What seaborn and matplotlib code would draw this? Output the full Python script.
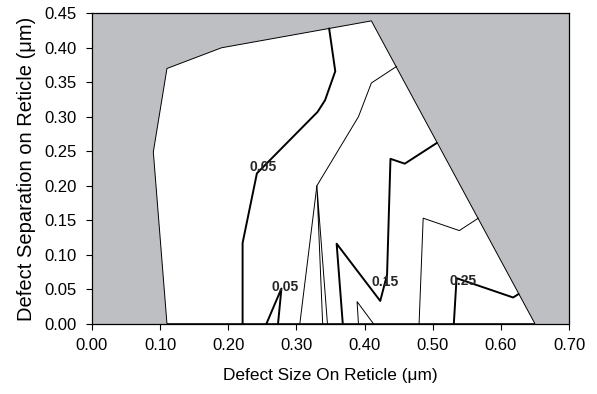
import matplotlib
matplotlib.use("Agg")
import matplotlib.pyplot as plt
import seaborn as sns
import pandas as pd

sns.set_theme(style="white")
plt.rcParams['font.family'] = ['Liberation Sans', 'DejaVu Sans']

# Feasible (white) region boundary
region_x = [0.110, 0.090, 0.110, 0.190, 0.348, 0.410, 0.650]
region_y = [0.000, 0.249, 0.370, 0.400, 0.428, 0.439, 0.000]

# Contours (thick = labelled levels)
c005a_x = [0.348, 0.357, 0.342, 0.331, 0.276, 0.242, 0.221, 0.221]
c005a_y = [0.428, 0.366, 0.324, 0.307, 0.252, 0.218, 0.117, 0.000]
c005b_x = [0.256, 0.278, 0.273]
c005b_y = [0.000, 0.051, 0.000]
c015_x = [0.506, 0.459, 0.438, 0.433, 0.423, 0.359, 0.368]
c015_y = [0.262, 0.232, 0.239, 0.071, 0.033, 0.116, 0.000]
c025_x = [0.626, 0.618, 0.535, 0.531]
c025_y = [0.043, 0.038, 0.066, 0.000]

# Thin contours
t1_x = [0.447, 0.410, 0.391, 0.330, 0.305]
t1_y = [0.373, 0.349, 0.300, 0.200, 0.000]
t2_x = [0.3385, 0.330, 0.3455]
t2_y = [0.000, 0.200, 0.000]
t3_x = [0.391, 0.389, 0.413]
t3_y = [0.000, 0.032, 0.000]
t4_x = [0.567, 0.539, 0.486, 0.480]
t4_y = [0.153, 0.135, 0.153, 0.000]

labels_text = ["0.05", "0.05", "0.15", "0.25"]
labels_x = [0.251, 0.283, 0.430, 0.545]
labels_y = [0.227, 0.053, 0.061, 0.062]

x_ticks = [0.0, 0.1, 0.2, 0.3, 0.4, 0.5, 0.6, 0.7]
y_ticks = [0.0, 0.05, 0.10, 0.15, 0.20, 0.25, 0.30, 0.35, 0.40, 0.45]

fig = plt.figure(figsize=(5.97, 3.94), dpi=100)
ax = fig.add_axes([92/597, 1-323.7/394, (569-92)/597, (323.7-13.3)/394])
ax.set_facecolor('#bebfc3')

ax.fill(region_x, region_y, facecolor='white', edgecolor='black', linewidth=0.7, zorder=1)

def draw(xs, ys, lw):
    df = pd.DataFrame({'x': xs, 'y': ys})
    sns.lineplot(data=df, x='x', y='y', sort=False, estimator=None, color='black',
                 linewidth=lw, ax=ax, zorder=2)

for xs, ys in [(c005a_x, c005a_y), (c005b_x, c005b_y), (c015_x, c015_y), (c025_x, c025_y)]:
    draw(xs, ys, 1.4)
for xs, ys in [(t1_x, t1_y), (t2_x, t2_y), (t3_x, t3_y), (t4_x, t4_y)]:
    draw(xs, ys, 0.7)

for t, x, y in zip(labels_text, labels_x, labels_y):
    ax.text(x, y, t, ha='center', va='center', fontsize=10, fontweight='bold', zorder=3)

ax.set_xlim(0, 0.7)
ax.set_ylim(0, 0.45)
ax.set_xticks(x_ticks)
ax.set_yticks(y_ticks)
ax.set_xticklabels([f"{v:.2f}" for v in x_ticks])
ax.set_yticklabels([f"{v:.2f}" for v in y_ticks])
ax.tick_params(axis='both', which='both', direction='out', length=4.5, width=0.8,
               color='black', labelsize=12, bottom=True, left=True, labelcolor='black')
ax.tick_params(axis='x', pad=5.5)
ax.tick_params(axis='y', pad=6.5)
for s in ax.spines.values():
    s.set_visible(True)
    s.set_color('black')
    s.set_linewidth(0.9)
ax.set_xlabel("Defect Size On Reticle (\u03bcm)", fontsize=12.4, labelpad=11, color='black')
ax.set_ylabel("Defect Separation on Reticle (\u03bcm)", fontsize=14.5, labelpad=6, color='black')

fig.savefig("out.png", dpi=100)
